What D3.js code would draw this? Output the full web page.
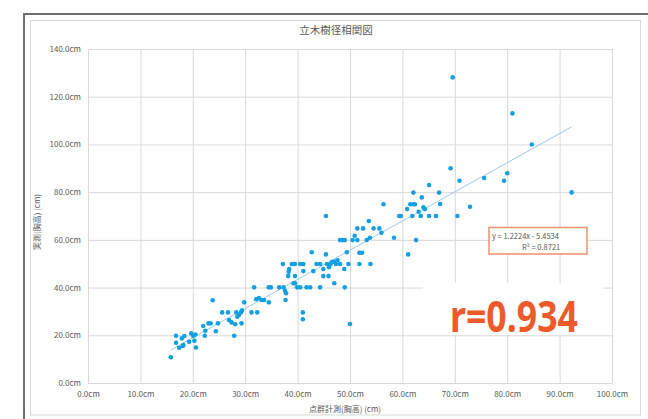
<!DOCTYPE html>
<html><head><meta charset="utf-8">
<script src="https://cdn.jsdelivr.net/npm/d3@7"></script>
<style>
html,body{margin:0;padding:0;background:#fff;}
svg{display:block;}
text{font-family:"Noto Sans CJK JP","Noto Sans",sans-serif;}
</style></head>
<body>
<svg id="chart" width="648" height="419"></svg>
<script>
const title = "立木樹径相関図";
const xTitle = "点群計測(胸高) (cm)";
const yTitle = "実測(胸高) (cm)";
const xTicks = [0,10,20,30,40,50,60,70,80,90,100];
const xTickLabels = ["0.0cm","10.0cm","20.0cm","30.0cm","40.0cm","50.0cm","60.0cm","70.0cm","80.0cm","90.0cm","100.0cm"];
const yTicks = [0,20,40,60,80,100,120,140];
const yTickLabels = ["0.0cm","20.0cm","40.0cm","60.0cm","80.0cm","100.0cm","120.0cm","140.0cm"];
const slope = 1.2224, intercept = -5.4534;
const eqText = "y = 1.2224x - 5.4534";
const r2Text = "R² = 0.8721";
const rText = "r=0.934";
// point cloud measured (x) vs field (y), cm
const pointsX = [15.8,16.8,16.8,17.4,18.1,17.9,18.4,18.2,19.3,19.7,20.1,20.3,20.6,20.5,22.0,22.4,22.3,23.0,23.4,23.8,24.4,24.8,25.6,26.7,26.9,27.4,27.9,28.1,28.3,28.8,29.2,29.4,28.5,29.3,29.8,31.2,32.3,31.7,32.1,32.6,33.1,33.6,34.5,34.5,34.9,
36.5,37.3,37.6,37.7,38.3,37.2,37.8,38.2,38.4,38.9,39.5,40.5,41.1,39.5,39.2,39.5,39.9,40.5,41.1,41.0,41.0,41.7,42.4,42.7,43.0,43.6,44.3,44.3,44.9,44.9,45.4,45.4,45.6,46.0,46.3,46.6,47.0,47.3,47.6,45.9,47.0,48.1,48.9,49.0,49.4,48.1,48.6,49.0,49.7,50.0,
50.5,51.4,50.9,51.4,51.8,52.3,51.8,52.5,53.2,53.6,53.8,53.9,54.5,55.6,56.0,56.4,58.4,59.4,59.7,61.1,60.9,61.5,62.1,62.4,61.9,62.1,62.6,63.1,63.7,64.0,64.3,63.5,65.1,66.4,65.1,67.0,67.2,70.5,69.2,70.9,72.9,75.6,79.4,80.0,69.6,81.0,84.7,92.3];
const pointsY = [10.8,19.8,16.9,14.8,15.5,18.7,19.7,15.9,17.3,20.8,19.7,17.7,14.9,20.3,23.9,21.9,19.8,25.0,25.0,34.7,21.7,25.0,29.6,29.6,26.4,25.4,19.8,24.6,29.6,28.5,29.6,30.5,27.8,25.0,33.8,29.6,29.6,40.1,35.1,35.6,34.8,34.8,33.8,40.1,40.1,
40.1,40.1,38.7,34.8,46.6,49.9,37.6,44.8,47.8,49.9,49.9,49.9,49.9,44.8,41.8,41.8,40.1,40.1,46.9,29.6,26.7,40.1,40.1,54.8,46.9,49.9,49.9,40.1,47.8,44.8,70.0,53.9,49.9,48.5,49.9,50.8,50.8,49.9,51.4,44.8,41.8,49.9,47.8,40.1,54.8,59.9,59.9,59.9,49.9,24.7,
59.9,59.9,61.7,64.8,54.6,54.6,49.9,64.8,59.9,67.9,60.9,49.9,64.8,64.8,63.0,74.9,60.9,70.0,70.0,53.9,72.9,74.9,74.9,74.9,70.0,79.8,59.9,71.8,77.8,73.6,72.9,70.0,70.0,70.0,83.0,79.8,75.0,70.0,90.0,84.8,73.9,85.9,84.8,87.9,128.1,113.0,100.0,79.9];

const svg = d3.select("#chart");
const x = d3.scaleLinear().domain([0,100]).range([88,612]);
const y = d3.scaleLinear().domain([0,140]).range([383,49]);

// frames
svg.append("rect").attr("x",24).attr("y",14).attr("width",640).attr("height",420)
  .attr("fill","none").attr("stroke","#6f6f6f").attr("stroke-width",2);
svg.append("rect").attr("x",30.5).attr("y",20.5).attr("width",610).attr("height",394.5)
  .attr("fill","none").attr("stroke","#d9d9d9").attr("stroke-width",1);

// gridlines via axes
const gx = svg.append("g").attr("transform","translate(0,383)")
  .call(d3.axisBottom(x).tickValues(xTicks).tickSize(-(383-49)).tickFormat((d,i)=>xTickLabels[i]).tickPadding(8));
const gy = svg.append("g").attr("transform","translate(88,0)")
  .call(d3.axisLeft(y).tickValues(yTicks).tickSize(-(612-88)).tickFormat((d,i)=>yTickLabels[i]).tickPadding(7));
[gx,gy].forEach(g=>{
  g.select(".domain").remove();
  g.selectAll(".tick line").attr("stroke","#d9d9d9").attr("stroke-width",1);
  g.selectAll(".tick text").attr("fill","#595959").style("font-size","8px")
    .style("font-family","'Noto Sans CJK JP',sans-serif");
});

// title & axis titles
svg.append("text").attr("x",336).attr("y",34).attr("text-anchor","middle")
  .attr("fill","#595959").style("font-size","10.5px").text(title);
svg.append("text").attr("x",345).attr("y",412).attr("text-anchor","middle")
  .attr("fill","#595959").style("font-size","8px").text(xTitle);
svg.append("text").attr("transform","translate(40,222) rotate(-90)").attr("text-anchor","middle")
  .attr("fill","#595959").style("font-size","8px").text(yTitle);

// trendline
const xmin = d3.min(pointsX), xmax = d3.max(pointsX);
svg.append("line")
  .attr("x1",x(xmin)).attr("y1",y(slope*xmin+intercept))
  .attr("x2",x(xmax)).attr("y2",y(slope*xmax+intercept))
  .attr("stroke","#9dc8ea").attr("stroke-width",1);

// points
svg.append("g").selectAll("circle").data(pointsX.map((v,i)=>[v,pointsY[i]])).join("circle")
  .attr("cx",d=>x(d[0])).attr("cy",d=>y(d[1])).attr("r",2.3).attr("fill","#13a0e2");

// equation box
svg.append("rect").attr("x",489).attr("y",227.5).attr("width",98).attr("height",26.5)
  .attr("fill","#fff").attr("stroke","#f0906a").attr("stroke-width",1.5);
svg.append("text").attr("x",492).attr("y",239).attr("fill","#595959").style("font-size","7.5px").text(eqText);
svg.append("text").attr("x",522).attr("y",249.5).attr("fill","#595959").style("font-size","7.5px").text(r2Text);

// r label with white backing
svg.append("rect").attr("x",423).attr("y",283).attr("width",180).attr("height",52).attr("fill","#fff");
svg.append("text").attr("x",450).attr("y",332).attr("fill","#ef5a2a")
  .style("font-family","'Liberation Sans Narrow','Noto Sans',sans-serif").style("font-size","43px")
  .style("font-weight","bold")
  .attr("textLength",128).attr("lengthAdjust","spacingAndGlyphs").text(rText);
</script>
</body></html>
